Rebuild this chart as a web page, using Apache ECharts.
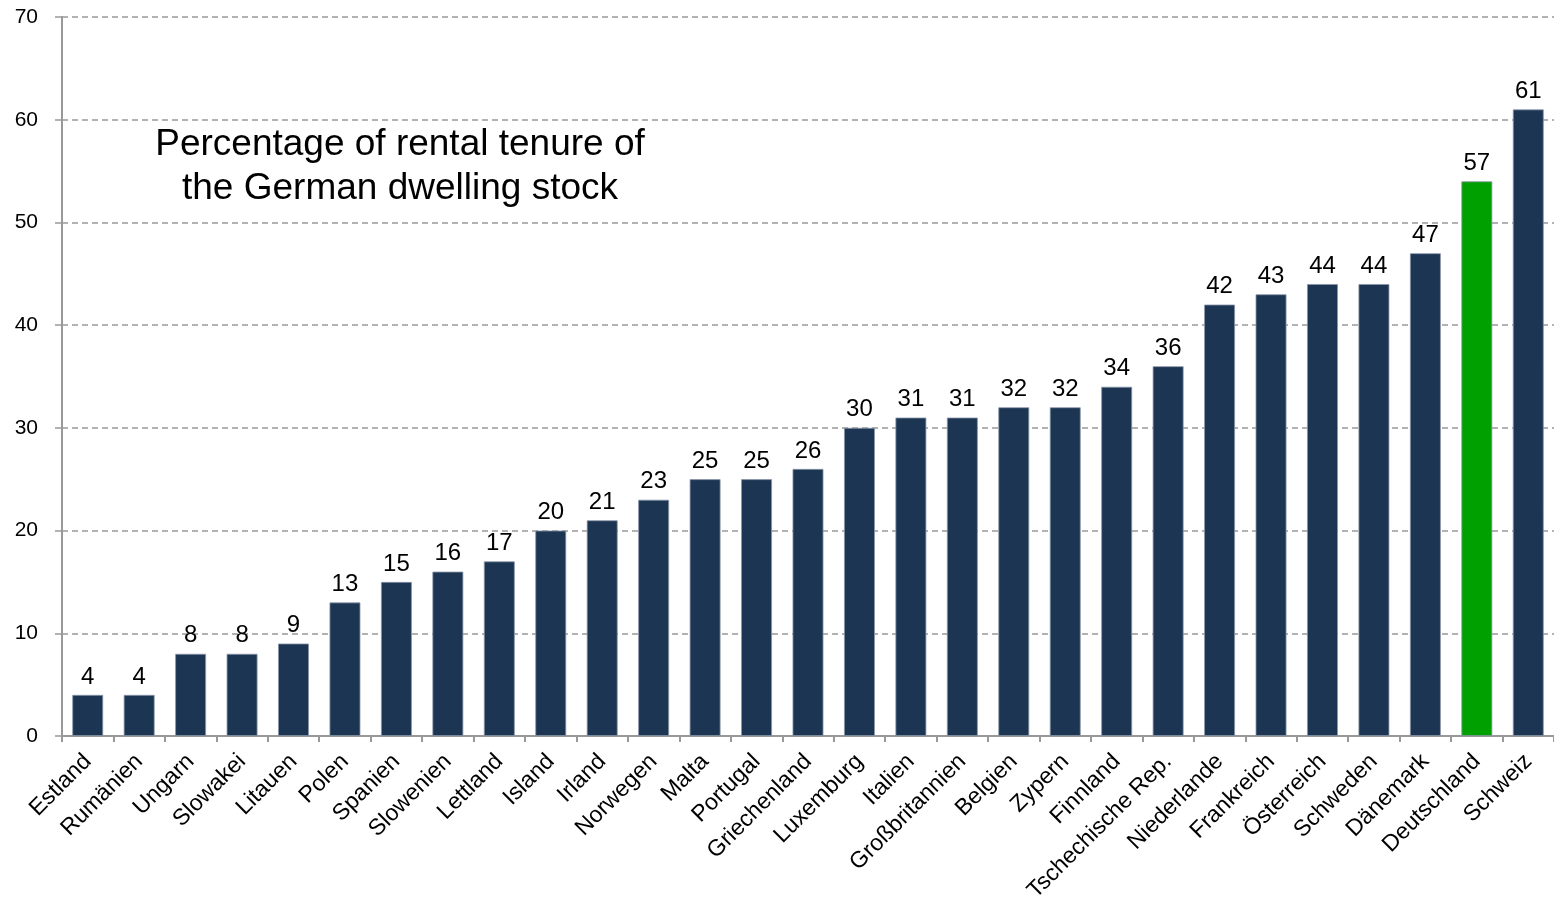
<!DOCTYPE html>
<html><head><meta charset="utf-8">
<script src="https://cdn.jsdelivr.net/npm/echarts@6/dist/echarts.min.js"></script>
<style>html,body{margin:0;padding:0;background:#fff}#c{width:1554px;height:897px}</style>
</head><body><div id="c"></div>
<script>
const categories = ["Estland","Rumänien","Ungarn","Slowakei","Litauen","Polen","Spanien","Slowenien","Lettland","Island","Irland","Norwegen","Malta","Portugal","Griechenland","Luxemburg","Italien","Großbritannien","Belgien","Zypern","Finnland","Tschechische Rep.","Niederlande","Frankreich","Österreich","Schweden","Dänemark","Deutschland","Schweiz"];
const values = [4,4,8,8,9,13,15,16,17,20,21,23,25,25,26,30,31,31,32,32,34,36,42,43,44,44,47,54,61];
const valueLabels = ["4","4","8","8","9","13","15","16","17","20","21","23","25","25","26","30","31","31","32","32","34","36","42","43","44","44","47","57","61"];
const highlight = "Deutschland";
const yTicks = [0,10,20,30,40,50,60,70];
const titleLines = ["Percentage of rental tenure of","the German dwelling stock"];

const font = "'Liberation Sans', Arial, sans-serif";
const chart = echarts.init(document.getElementById('c'), null, {renderer:'canvas'});
chart.setOption({
  animation:false,
  backgroundColor:'#fff',
  textStyle:{fontFamily:font},
  title:{
    text: titleLines.join('\n'),
    left:395, top:118, textAlign:'center',
    textStyle:{fontFamily:font,fontSize:37,fontWeight:'normal',color:'#000',lineHeight:44,align:'center'}
  },
  grid:{left:62,right:0,top:17,bottom:161,containLabel:false,outerBoundsMode:'none'},
  xAxis:{
    type:'category', data:categories,
    axisLine:{lineStyle:{color:'#999',width:2}},
    axisTick:{show:true,length:6,lineStyle:{color:'#999',width:2}},
    axisLabel:{rotate:45,fontSize:23,color:'#000',fontFamily:font,margin:22,interval:0}
  },
  yAxis:{
    type:'value', min:yTicks[0], max:yTicks[yTicks.length-1], interval:10,
    axisLine:{show:true,lineStyle:{color:'#999',width:2}},
    axisTick:{show:true,length:7,lineStyle:{color:'#999',width:1.5}},
    axisLabel:{fontSize:21,color:'#000',fontFamily:font,margin:24},
    splitLine:{show:true,lineStyle:{color:'#999',type:[6,4],width:1.5}}
  },
  series:[{
    type:'bar', barWidth:'60%',
    data: values.map((v,i)=>({
      value:v,
      itemStyle:{color: categories[i]===highlight ? '#00a000' : '#1c3553'},
      label:{formatter: valueLabels[i]}
    })),
    itemStyle:{borderColor:'#8a97a8',borderWidth:0.8},
    label:{show:true,position:'top',fontSize:24,color:'#000',fontFamily:font,distance:6}
  }]
});
</script></body></html>
